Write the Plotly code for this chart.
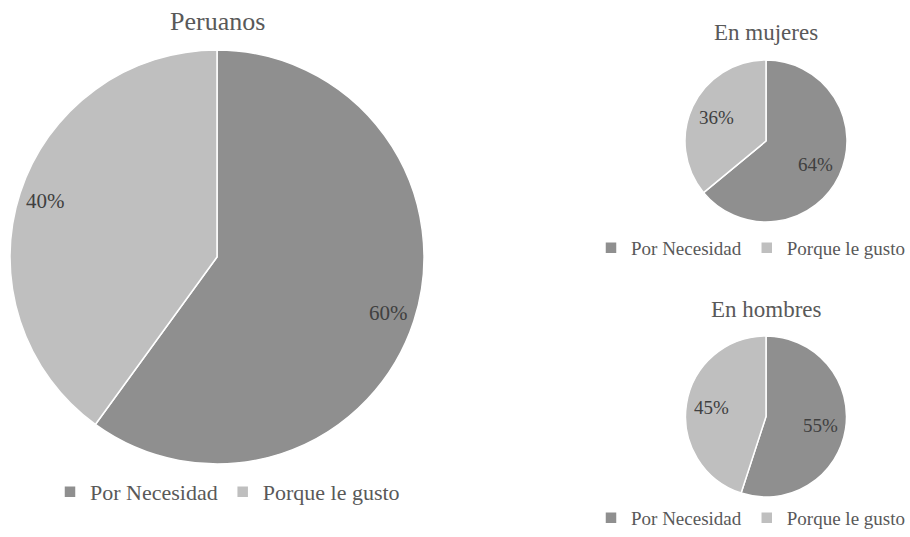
import math
import plotly.graph_objects as go

categories = ["Por Necesidad", "Porque le gusto"]
peruanos = [60, 40]
mujeres = [64, 36]
hombres = [55, 45]
titles = ["Peruanos", "En mujeres", "En hombres"]

colors = ["#8f8f8f", "#bfbfbf"]
FONT = "Liberation Serif, Times New Roman, serif"
W, H = 910, 537

# pie boxes in pixels: (left, right, top, bottom)
boxes = [(10, 424, 50, 464), (685, 847, 60, 222), (685, 847, 336, 497)]
label_k = [0.87, 0.68, 0.68]
label_fs = [21, 19, 19]
title_fs = [26, 23, 23]
title_y = [21, 33, 309]
legend_names = ["legend", "legend2", "legend3"]

def dom(b):
    x0, x1, yt, yb = b
    return dict(x=[x0 / W, x1 / W], y=[1 - yb / H, 1 - yt / H])

fig = go.Figure()
annotations = []
for i, vals in enumerate([peruanos, mujeres, hombres]):
    b = boxes[i]
    fig.add_trace(go.Pie(
        labels=categories, values=vals, domain=dom(b), legend=legend_names[i],
        legendgroup=f"g{i}",
        sort=False, direction="clockwise", rotation=0,
        marker=dict(colors=colors, line=dict(color="white", width=1.5)),
        textinfo="none",
        hoverinfo="label+percent",
    ))
    cx = (b[0] + b[1]) / 2
    cy = (b[2] + b[3]) / 2
    r = (b[1] - b[0]) / 2
    total = sum(vals)
    cum = 0
    for v in vals:
        th = 2 * math.pi * (cum + v / 2) / total
        cum += v
        px = cx + label_k[i] * r * math.sin(th)
        py = cy - label_k[i] * r * math.cos(th)
        annotations.append(dict(
            text=f"{round(100 * v / total)}%", x=px / W, y=1 - py / H,
            xref="paper", yref="paper", xanchor="center", yanchor="middle",
            showarrow=False, font=dict(size=label_fs[i], family=FONT, color="#404040")))
    annotations.append(dict(
        text=titles[i], x=cx / W, y=1 - title_y[i] / H, xref="paper", yref="paper",
        xanchor="center", yanchor="middle", showarrow=False,
        font=dict(size=title_fs[i], family=FONT, color="#595959")))

leg_common = dict(orientation="h", traceorder="normal",
                  bgcolor="rgba(0,0,0,0)", itemclick=False)
fig.update_layout(
    width=W, height=H,
    margin=dict(l=0, r=0, t=0, b=0),
    paper_bgcolor="white", plot_bgcolor="white",
    font=dict(family=FONT, color="#595959"),
    legend=dict(x=50 / W, y=1 - 492 / H, xanchor="left", yanchor="middle",
                font=dict(size=22, family=FONT, color="#595959"), **leg_common),
    legend2=dict(x=1.0, y=1 - 248 / H, xanchor="right", yanchor="middle",
                 font=dict(size=19, family=FONT, color="#595959"), **leg_common),
    legend3=dict(x=1.0, y=0.0, xanchor="right", yanchor="bottom",
                 font=dict(size=19, family=FONT, color="#595959"), **leg_common),
    annotations=annotations,
)

fig.write_html("out.html")
